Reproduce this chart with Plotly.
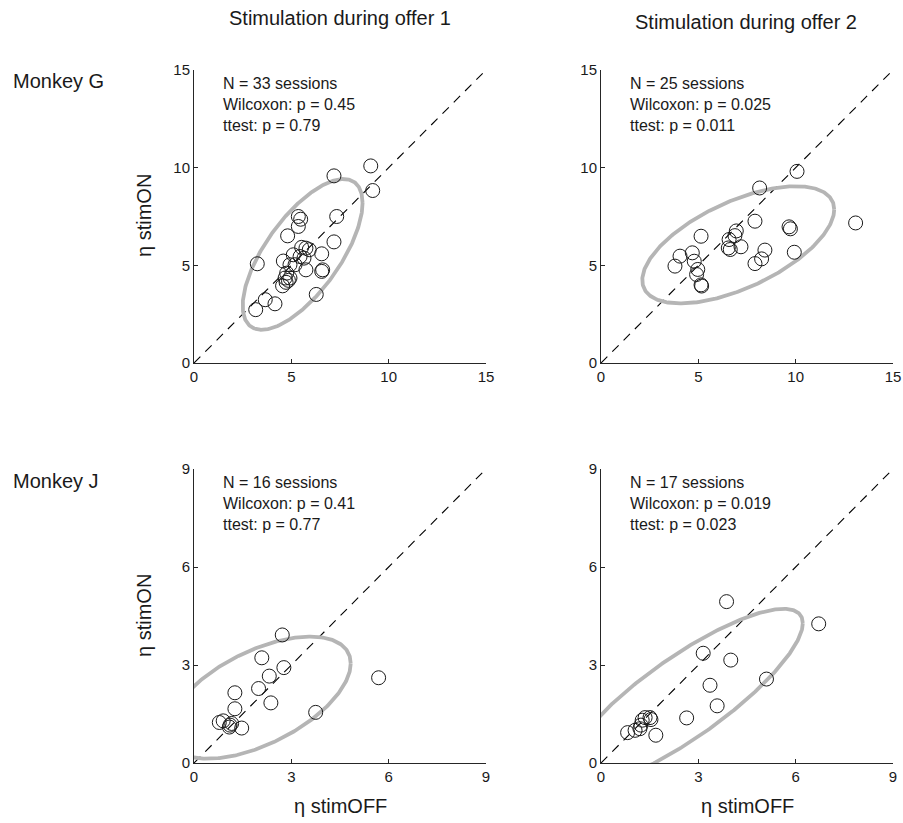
import numpy as np
import plotly.graph_objects as go

W, H = 903, 823

# ---------------- data ----------------
g1_off = [9.08, 9.18, 7.19, 7.33, 7.19, 3.25, 3.17, 3.66, 4.16, 6.28, 4.81, 5.36, 5.36, 5.48,
          4.59, 5.10, 5.75, 5.92, 5.65, 5.75, 6.56, 6.61, 6.56, 4.93, 4.76, 4.93, 4.73, 4.55,
          4.85, 5.45, 5.53, 5.19, 4.68]
g1_on = [10.09, 8.83, 9.58, 7.50, 6.20, 5.08, 2.73, 3.24, 3.03, 3.51, 6.51, 6.99, 7.50, 7.36,
         5.22, 5.54, 5.88, 5.80, 5.37, 4.77, 5.59, 4.77, 4.69, 5.03, 4.60, 4.35, 4.13, 3.95,
         4.23, 5.45, 5.92, 5.03, 4.35]

g2_off = [10.07, 8.15, 7.91, 13.08, 9.66, 9.73, 9.93, 8.42, 8.25, 7.91, 6.95, 6.88, 6.58,
          7.19, 6.54, 6.64, 5.14, 4.69, 4.79, 4.06, 3.80, 4.97, 4.91, 5.14, 5.17]
g2_on = [9.81, 8.96, 7.26, 7.17, 6.97, 6.87, 5.67, 5.78, 5.33, 5.09, 6.76, 6.52, 6.32,
         5.95, 5.89, 5.81, 6.49, 5.64, 5.21, 5.47, 4.96, 4.79, 4.53, 4.00, 3.94]

j1_off = [2.72, 2.09, 2.77, 2.32, 5.69, 1.99, 1.26, 2.37, 1.26, 3.75, 1.47, 0.78, 0.90, 1.11, 1.09, 1.16]
j1_on = [3.92, 3.22, 2.92, 2.66, 2.61, 2.28, 2.15, 1.84, 1.66, 1.55, 1.07, 1.24, 1.29, 1.16, 1.10, 1.21]

j2_off = [3.87, 6.71, 3.15, 4.00, 5.10, 3.36, 3.58, 2.64, 1.69, 0.82, 1.05, 1.20, 1.27, 1.36, 1.51, 1.54, 1.23]
j2_on = [4.94, 4.26, 3.36, 3.15, 2.57, 2.38, 1.75, 1.38, 0.85, 0.93, 1.00, 1.05, 1.31, 1.39, 1.39, 1.33, 1.16]

# ellipse parameters: center x, center y, half-width x, half-height y, phase (deg)
ell_g1 = [5.58, 5.56, 3.08, 3.86, 47]
ell_g2 = [7.05, 6.05, 4.93, 3.00, 53]
ell_j1 = [2.00, 2.00, 2.83, 1.87, 56]
ell_j2 = [2.55, 2.00, 3.67, 2.72, 33]

stats_g1 = ["N = 33 sessions", "Wilcoxon: p = 0.45", "ttest: p = 0.79"]
stats_g2 = ["N = 25 sessions", "Wilcoxon: p = 0.025", "ttest: p = 0.011"]
stats_j1 = ["N = 16 sessions", "Wilcoxon: p = 0.41", "ttest: p = 0.77"]
stats_j2 = ["N = 17 sessions", "Wilcoxon: p = 0.019", "ttest: p = 0.023"]

ticks_g = [0, 5, 10, 15]
ticks_j = [0, 3, 6, 9]

col_titles = ["Stimulation during offer 1", "Stimulation during offer 2"]
row_titles = ["Monkey G", "Monkey J"]

# ---------------- layout helpers ----------------
FONT = "Liberation Sans, Arial, sans-serif"
AX = "#262626"
TXT = "#1a1a1a"

# pixel boxes of axes: (x0, x1, ytop, ybottom)
boxes = [(194, 486, 70, 363), (601, 893, 70, 363), (194, 486, 469, 763), (601, 893, 469, 763)]
panels = [
    (g1_off, g1_on, ell_g1, stats_g1, ticks_g),
    (g2_off, g2_on, ell_g2, stats_g2, ticks_g),
    (j1_off, j1_on, ell_j1, stats_j1, ticks_j),
    (j2_off, j2_on, ell_j2, stats_j2, ticks_j),
]

fig = go.Figure()
t = np.linspace(0, 2 * np.pi, 400)
annotations = []

for i, ((xs, ys, ell, stats, ticks), box) in enumerate(zip(panels, boxes)):
    n = i + 1
    xa = "x" if n == 1 else f"x{n}"
    ya = "y" if n == 1 else f"y{n}"
    lim = ticks[-1]
    # dashed identity line
    fig.add_trace(go.Scatter(x=[ticks[0], lim], y=[ticks[0], lim], mode="lines",
                             line=dict(color="black", width=1.1, dash="9px,7px"),
                             xaxis=xa, yaxis=ya, showlegend=False, hoverinfo="skip"))
    # ellipse
    cx, cy, axx, ayy, ph = ell
    ex = cx + axx * np.cos(t)
    ey = cy + ayy * np.cos(t - np.deg2rad(ph))
    fig.add_trace(go.Scatter(x=ex, y=ey, mode="lines",
                             line=dict(color="#b5b5b5", width=3.8),
                             xaxis=xa, yaxis=ya, showlegend=False, hoverinfo="skip"))
    # points
    fig.add_trace(go.Scatter(x=xs, y=ys, mode="markers",
                             marker=dict(symbol="circle-open", size=14, color=TXT,
                                         line=dict(width=1, color=TXT)),
                             cliponaxis=False,
                             xaxis=xa, yaxis=ya, showlegend=False))
    x0, x1, yt, yb = box
    axis_common = dict(showline=True, linecolor=AX, linewidth=1, ticks="inside", ticklen=4,
                       tickcolor=AX, tickwidth=1, showgrid=False, zeroline=False,
                       tickvals=ticks, range=[ticks[0], lim], automargin=False,
                       tickfont=dict(family=FONT, size=15, color=TXT), mirror=False)
    fig.layout[f"xaxis{'' if n == 1 else n}"] = dict(domain=[x0 / W, x1 / W], anchor=ya, **axis_common)
    fig.layout[f"yaxis{'' if n == 1 else n}"] = dict(domain=[1 - yb / H, 1 - yt / H], anchor=xa, **axis_common)
    annotations.append(dict(text="<br>".join(stats), xref="paper", yref="paper",
                            x=(x0 + 27) / W, y=1 - (yt + 3) / H, xanchor="left", yanchor="top",
                            align="left", showarrow=False,
                            font=dict(family=FONT, size=16, color=TXT)))

# column titles
annotations.append(dict(text=col_titles[0], xref="paper", yref="paper", x=340 / W, y=1 - 18 / H,
                        xanchor="center", yanchor="middle", showarrow=False,
                        font=dict(family=FONT, size=20, color=TXT)))
annotations.append(dict(text=col_titles[1], xref="paper", yref="paper", x=746 / W, y=1 - 22 / H,
                        xanchor="center", yanchor="middle", showarrow=False,
                        font=dict(family=FONT, size=20, color=TXT)))
# row titles
for txt, yc in zip(row_titles, [81, 481]):
    annotations.append(dict(text=txt, xref="paper", yref="paper", x=11 / W, y=1 - yc / H,
                            xanchor="left", yanchor="middle", showarrow=False,
                            font=dict(family=FONT, size=20, color=TXT)))
# axis titles
for yc in [216, 616]:
    annotations.append(dict(text="η stimON", xref="paper", yref="paper", x=144 / W, y=1 - yc / H,
                            xanchor="center", yanchor="middle", textangle=-90, showarrow=False,
                            font=dict(family=FONT, size=20, color=TXT)))
for xc in [340, 747]:
    annotations.append(dict(text="η stimOFF", xref="paper", yref="paper", x=xc / W, y=1 - 806 / H,
                            xanchor="center", yanchor="middle", showarrow=False,
                            font=dict(family=FONT, size=20, color=TXT)))

fig.update_layout(template="none", width=W, height=H, margin=dict(l=0, r=0, t=0, b=0, pad=0),
                  paper_bgcolor="white", plot_bgcolor="white",
                  annotations=annotations, showlegend=False)

fig.write_html("out.html", config={"displayModeBar": False},
               post_script="document.body.style.margin='0';document.body.style.overflow='hidden';")
